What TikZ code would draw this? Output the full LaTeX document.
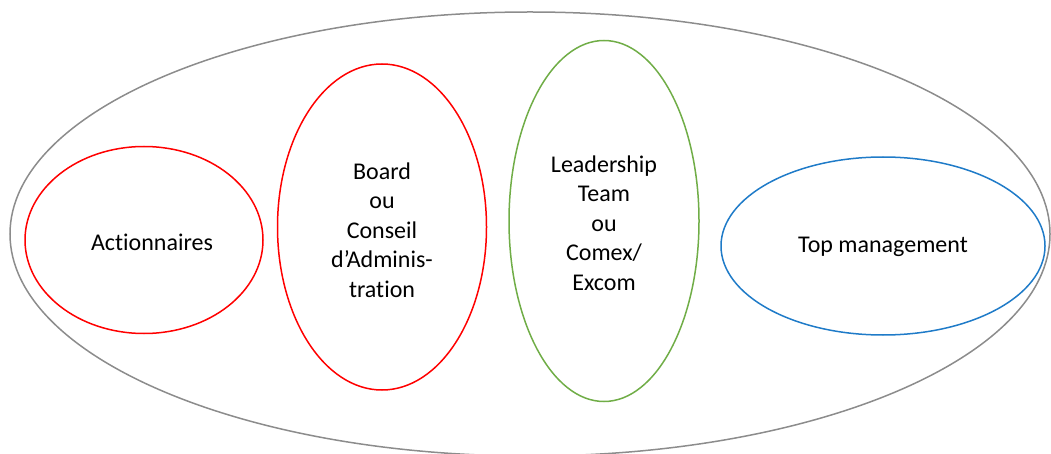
\documentclass[tikz,border=0pt]{standalone}
\usepackage{fontspec}
\setmainfont[Ligatures=NoCommon]{Carlito}
\usepackage{xcolor}
\usepackage{tikz}
\usetikzlibrary{calc}
\usetikzlibrary{shapes.geometric}
\definecolor{outergray}{HTML}{8C8C8C}
\definecolor{boardred}{HTML}{FF0000}
\definecolor{teamgreen}{HTML}{70AD47}
\definecolor{mgmtblue}{HTML}{1F7BC8}
\tikzset{>=latex}
\tikzstyle{group} = [ellipse, draw, line width = 1.5pt, inner sep = 0]
\tikzstyle{caption} = [draw = none, inner sep = 0, align = center, font = \fontsize{24}{29.6}\selectfont]

\begin{document}
\begin{tikzpicture}[x = 1pt, y = -1pt]
\useasboundingbox (0, 0) rectangle (1051, 454);
\node [group, draw = outergray, minimum width = 1040, minimum height = 444] (outer) at (530, 234) {};
\node [group, draw = boardred, minimum width = 238, minimum height = 187] (actionnaires) at (144, 240) {};
\node [group, draw = boardred, minimum width = 209, minimum height = 326] (board) at (382, 227) {};
\node [group, draw = teamgreen, minimum width = 190, minimum height = 361] (leadership) at (604, 221) {};
\node [group, draw = mgmtblue, minimum width = 324, minimum height = 178] (topmgmt) at (883, 246) {};
\node [caption] (actionnaires text) at ($(actionnaires) + (8, 2)$) {Actionnaires};
\node [caption] (board text) at ($(board) + (0, 3)$) {Board\\ou\\Conseil\\d’Adminis-\\tration};
\node [caption] (leadership text) at ($(leadership) + (0, 2)$) {Leadership\\Team\\ou\\Comex/\\Excom};
\node [caption] (topmgmt text) at ($(topmgmt) + (0, 1)$) {Top management};
\end{tikzpicture}
\end{document}
